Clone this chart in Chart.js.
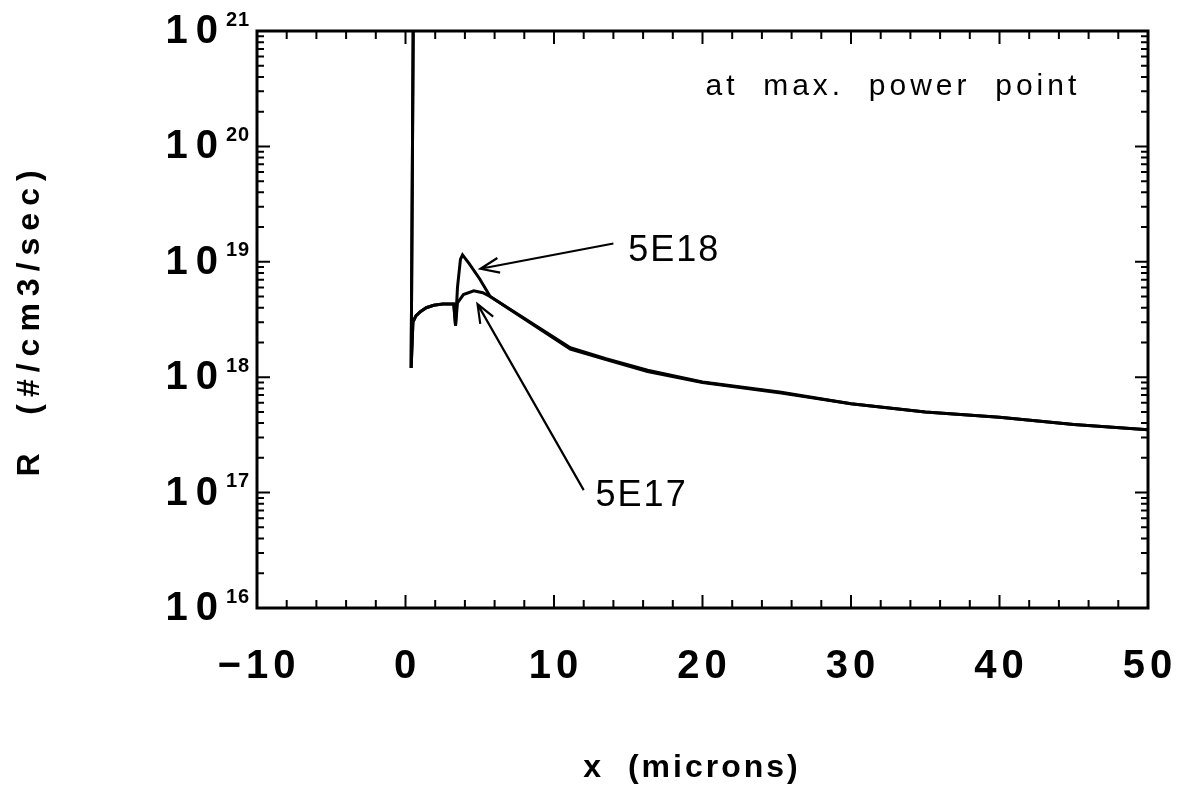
<!DOCTYPE html>
<html>
<head>
<meta charset="utf-8">
<script src="https://cdn.jsdelivr.net/npm/chart.js@4.4.1/dist/chart.umd.min.js"></script>
<style>
  html, body { margin: 0; padding: 0; background: #fff; }
  #wrap { width: 1180px; height: 794px; }
</style>
</head>
<body>
<div id="wrap"><canvas id="chart"></canvas></div>
<script>
// axis ranges and tick labels
const xMin = -10, xMax = 50;
const xTickLabels = [-10, 0, 10, 20, 30, 40, 50];
const yExponents = [16, 17, 18, 19, 20, 21];

// R at max. power point, two doping levels
const x5e18 = [0.55, 0.38, 0.5, 0.7, 1.0, 1.4, 1.9, 2.5, 3.25, 3.37, 3.5, 3.7, 3.84, 4.3, 5.0, 5.7, 11.1, 13.5, 16.3, 20.0, 25.3, 30.0, 35.0, 40.0, 45.0, 50.0];
const r5e18 = [5e21, 1.2e18, 3.0e18, 3.4e18, 3.7e18, 4.0e18, 4.2e18, 4.3e18, 4.3e18, 2.8e18, 6.0e18, 1.05e19, 1.15e19, 9.6e18, 7.1e18, 5.0e18, 1.8e18, 1.45e18, 1.15e18, 9.1e17, 7.4e17, 5.9e17, 5.0e17, 4.5e17, 3.9e17, 3.5e17];
const x5e17 = [0.55, 0.38, 0.5, 0.7, 1.0, 1.4, 1.9, 2.5, 3.25, 3.37, 3.5, 3.9, 4.6, 5.2, 5.7, 11.1, 13.5, 16.3, 20.0, 25.3, 30.0, 35.0, 40.0, 45.0, 50.0];
const r5e17 = [5e21, 1.2e18, 3.0e18, 3.4e18, 3.7e18, 4.0e18, 4.2e18, 4.3e18, 4.3e18, 2.8e18, 4.4e18, 5.2e18, 5.6e18, 5.4e18, 5.0e18, 1.75e18, 1.42e18, 1.12e18, 9.0e17, 7.3e17, 5.9e17, 5.0e17, 4.5e17, 3.9e17, 3.5e17];

// annotations (data units)
const noteText = ["5E18", "5E17"];
const noteX = [15.0, 12.8];
const noteY = [1.25e19, 9.4e16];
const arrowFromX = [14.0, 12.0];
const arrowFromY = [1.44e19, 1.05e17];
const arrowToX = [5.05, 4.85];
const arrowToY = [8.7e18, 4.3e18];
const topNote = "at  max.  power  point";
const topNoteX = 20.2, topNoteY = 3.3e20;

function pairs(xs, ys) {
  return xs.map((x, i) => ({ x: x, y: ys[i] }));
}

function arrow(c, x1, y1, x2, y2) {
  const ang = Math.atan2(y2 - y1, x2 - x1);
  const h = 20, w = 0.38;
  c.beginPath();
  c.moveTo(x1, y1);
  c.lineTo(x2, y2);
  c.moveTo(x2 - h * Math.cos(ang - w), y2 - h * Math.sin(ang - w));
  c.lineTo(x2, y2);
  c.lineTo(x2 - h * Math.cos(ang + w), y2 - h * Math.sin(ang + w));
  c.stroke();
}

// frame, inward ticks, labels, titles and notes
const decor = {
  id: "decor",
  afterDraw(chart) {
    const c = chart.ctx;
    const sx = chart.scales.x, sy = chart.scales.y;
    const a = chart.chartArea;
    c.save();
    c.strokeStyle = "#000";
    c.fillStyle = "#000";
    c.lineWidth = 3;
    c.strokeRect(a.left, a.top, a.right - a.left, a.bottom - a.top);

    c.lineWidth = 2;
    c.beginPath();
    for (let v = xMin; v <= xMax; v += 2) {
      const px = sx.getPixelForValue(v);
      const len = v % 10 === 0 ? 13 : 8;
      c.moveTo(px, a.bottom); c.lineTo(px, a.bottom - len);
      c.moveTo(px, a.top); c.lineTo(px, a.top + len);
    }
    for (let i = 0; i < yExponents.length - 1; i++) {
      for (let k = 1; k <= 9; k++) {
        const py = sy.getPixelForValue(k * Math.pow(10, yExponents[i]));
        const len = k === 1 ? 13 : 7;
        c.moveTo(a.left, py); c.lineTo(a.left + len, py);
        c.moveTo(a.right, py); c.lineTo(a.right - len, py);
      }
    }
    c.stroke();

    // x tick labels
    c.font = 'bold 40px "Liberation Sans"';
    c.letterSpacing = "5px";
    c.textAlign = "center";
    c.textBaseline = "middle";
    xTickLabels.forEach(v => {
      const txt = v < 0 ? "\u2212" + Math.abs(v) : String(v);
      c.fillText(txt, sx.getPixelForValue(v) + 2, 667);
    });

    // y tick labels 10^n
    yExponents.forEach(e => {
      const py = sy.getPixelForValue(Math.pow(10, e));
      c.font = 'bold 40px "Liberation Sans"';
      c.letterSpacing = "8px";
      c.textAlign = "right";
      c.fillText("10", 226, py + 1);
      c.font = 'bold 20px "Liberation Sans"';
      c.letterSpacing = "1px";
      c.textAlign = "left";
      c.fillText(String(e), 226, py - 11);
    });

    // axis titles
    c.font = 'bold 32px "Liberation Sans"';
    c.letterSpacing = "3px";
    c.textAlign = "center";
    c.fillText("x  (microns)", 692, 768);
    c.save();
    c.translate(30, 320);
    c.rotate(-Math.PI / 2);
    c.letterSpacing = "7px";
    c.fillText("R  (#/cm3/sec)", 0, 0);
    c.restore();

    // notes and arrows
    c.font = '30px "Liberation Sans"';
    c.letterSpacing = "4px";
    c.textAlign = "left";
    c.fillText(topNote, sx.getPixelForValue(topNoteX), sy.getPixelForValue(topNoteY));
    c.font = '36px "Liberation Sans"';
    c.letterSpacing = "2px";
    noteText.forEach((t, i) => {
      c.fillText(t, sx.getPixelForValue(noteX[i]), sy.getPixelForValue(noteY[i]));
    });
    c.lineWidth = 2.2;
    for (let i = 0; i < arrowFromX.length; i++) {
      arrow(c,
        sx.getPixelForValue(arrowFromX[i]), sy.getPixelForValue(arrowFromY[i]),
        sx.getPixelForValue(arrowToX[i]), sy.getPixelForValue(arrowToY[i]));
    }
    c.restore();
  }
};

const ctx = document.getElementById("chart").getContext("2d");
const chart = new Chart(ctx, {
  type: "scatter",
  data: {
    datasets: [
      { label: "5E18", data: pairs(x5e18, r5e18), showLine: true, borderColor: "#000", borderWidth: 3, pointRadius: 0, tension: 0 },
      { label: "5E17", data: pairs(x5e17, r5e17), showLine: true, borderColor: "#000", borderWidth: 3, pointRadius: 0, tension: 0 }
    ]
  },
  options: {
    responsive: true,
    maintainAspectRatio: false,
    animation: false,
    layout: { padding: { left: 257, top: 31, right: 32, bottom: 186 } },
    plugins: { legend: { display: false }, tooltip: { enabled: false } },
    scales: {
      x: {
        type: "linear", min: xMin, max: xMax,
        ticks: { display: false },
        grid: { display: false, drawTicks: false },
        border: { display: false }
      },
      y: {
        type: "logarithmic", min: 1e16, max: 1e21,
        ticks: { display: false },
        grid: { display: false, drawTicks: false },
        border: { display: false }
      }
    }
  },
  plugins: [decor]
});
</script>
</body>
</html>
